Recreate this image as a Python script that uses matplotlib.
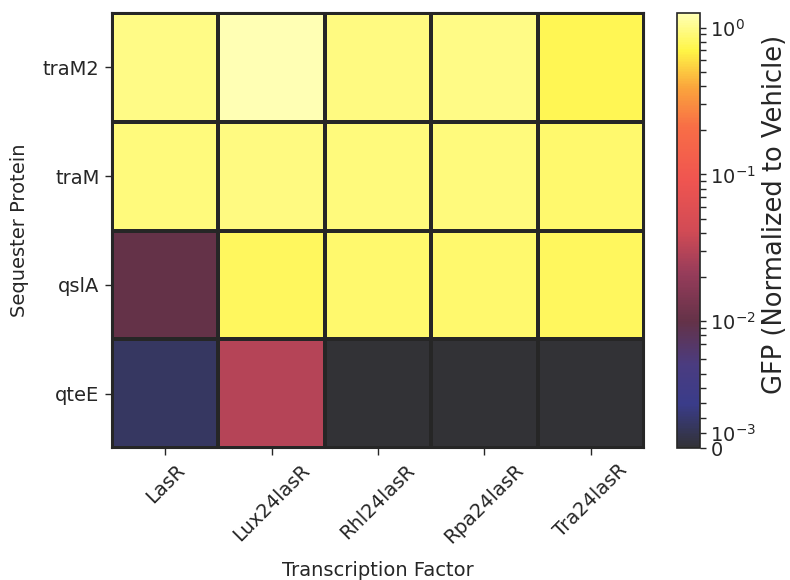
import numpy as np
import matplotlib
matplotlib.use("Agg")
import matplotlib.pyplot as plt
from matplotlib.colors import LinearSegmentedColormap, SymLogNorm

factors = ["LasR", "Lux24lasR", "Rhl24lasR", "Rpa24lasR", "Tra24lasR"]
proteins = ["traM2", "traM", "qslA", "qteE"]

# GFP normalised to vehicle, one list per sequester protein
gfp_traM2 = [0.97, 1.26, 0.95, 0.97, 0.75]
gfp_traM = [0.93, 0.95, 0.92, 0.93, 0.85]
gfp_qslA = [0.010, 0.80, 0.85, 0.85, 0.80]
gfp_qteE = [0.0015, 0.030, 0.0, 0.0, 0.0]

cbar_ticks = [0, 1e-3, 1e-2, 1e-1, 1e0]
cbar_labels = ["0", "$10^{-3}$", "$10^{-2}$", "$10^{-1}$", "$10^{0}$"]

gfp = np.array([gfp_traM2, gfp_traM, gfp_qslA, gfp_qteE])

ink = "#262626"
cmap = LinearSegmentedColormap.from_list("gfp", [
    (0.00, "#323236"), (0.10, "#3a3c8a"), (0.19, "#4a3c80"),
    (0.29, "#643248"), (0.40, "#963c5a"), (0.50, "#d24b55"),
    (0.62, "#f05550"), (0.74, "#f86e46"), (0.83, "#faa53c"),
    (0.915, "#fff546"), (1.00, "#ffffb4")])
norm = SymLogNorm(linthresh=0.007, linscale=0.64, vmin=gfp.min(), vmax=gfp.max(), base=10)

fig = plt.figure(figsize=(7.9, 5.8), dpi=100)
ax = fig.add_axes([112/790, 1 - 448/580, 532/790, 435/580])
cax = fig.add_axes([677/790, 1 - 448/580, 23/790, 435/580])

mesh = ax.pcolormesh(gfp, cmap=cmap, norm=norm, edgecolors=ink, linewidth=1.5)
ax.set_xticks(np.arange(len(factors)) + 0.5, factors, rotation=45)
ax.set_yticks(np.arange(len(proteins)) + 0.5, proteins)
ax.invert_yaxis()
for s in ax.spines.values():
    s.set_color(ink)
    s.set_linewidth(1.5)
ax.tick_params(length=5, width=1, color=ink, labelcolor=ink, labelsize=14, pad=4)
ax.set_xlabel("Transcription Factor", fontsize=14, color=ink, labelpad=10)
ax.set_ylabel("Sequester Protein", fontsize=14, color=ink, labelpad=10)

cb = fig.colorbar(mesh, cax=cax)
cb.set_ticks(cbar_ticks, labels=cbar_labels)
minor = [k * 10.0**e for e in (-3, -2, -1) for k in range(2, 10)]
cb.ax.yaxis.set_ticks(minor, minor=True)
cb.ax.tick_params(which="both", length=4, width=1, color=ink, labelcolor=ink, labelsize=14)
cb.outline.set_edgecolor(ink)
cb.outline.set_linewidth(1.2)
cb.set_label("GFP (Normalized to Vehicle)", fontsize=18.5, color=ink, labelpad=4)
cb.ax.yaxis.label.set_y(0.537)

fig.savefig("out.png", dpi=100)
